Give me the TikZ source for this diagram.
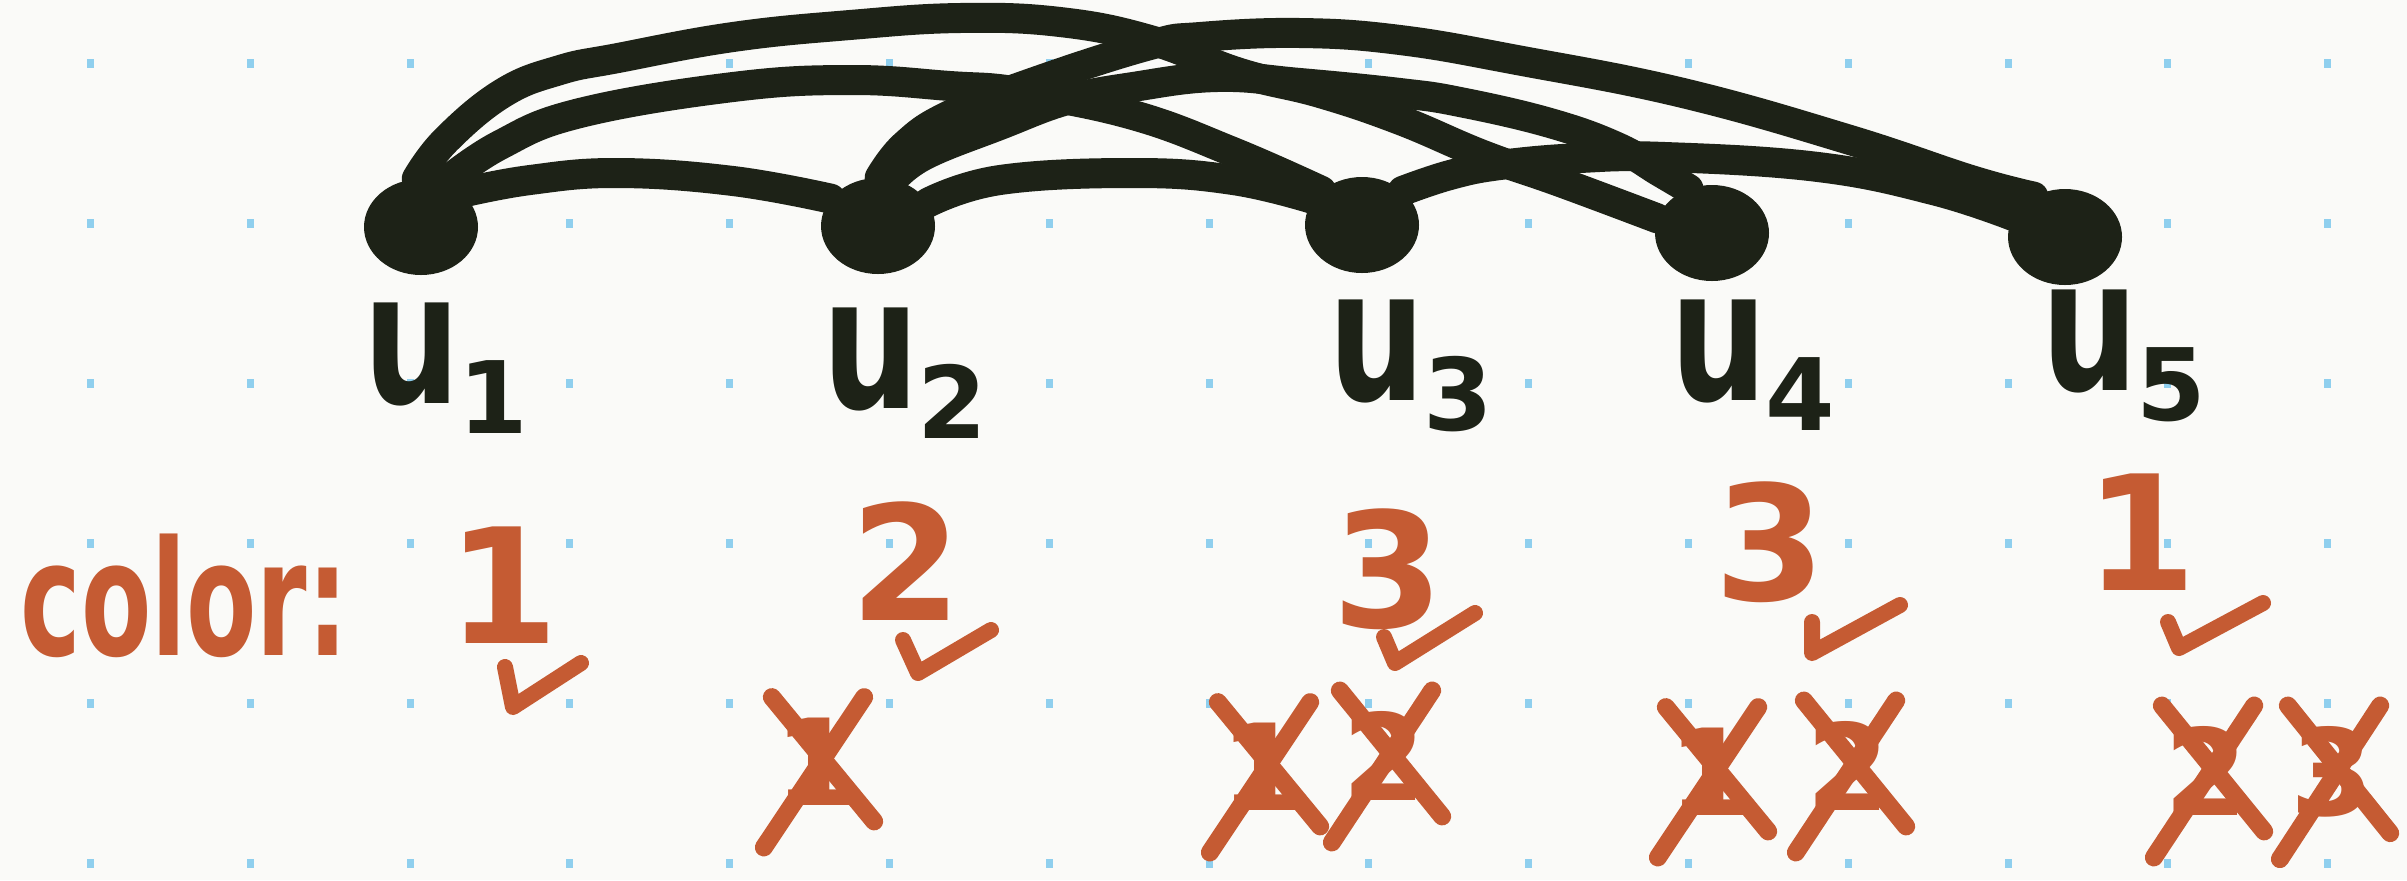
\documentclass[tikz,border=0pt]{standalone}
\usepackage{fontspec}
\setmainfont{DejaVu Sans}
\usetikzlibrary{shapes.geometric}
\definecolor{ink}{HTML}{1D2217}
\definecolor{rust}{HTML}{C55B33}
\definecolor{gridblue}{HTML}{8FCFEE}
\definecolor{paper}{HTML}{FAFAF8}
% vertex name: condensed u with a low index
\newcommand{\vname}[1]{\scalebox{0.74}[1]{u}\kern-1pt\raisebox{-15pt}{\fontsize{50}{50}\selectfont #1}}

\begin{document}
\begin{tikzpicture}[
        x=0.5pt, y=-0.5pt,
        vert/.style={ellipse, fill=ink, minimum width=57pt, minimum height=48pt, inner sep=0pt},
        link/.style={draw=ink, line width=15pt, line cap=round, line join=round},
        vlabel/.style={anchor=base west, text=ink, inner sep=0pt,
                       font=\fontsize{92}{92}\selectfont\bfseries},
        colour/.style={anchor=base, text=rust, inner sep=0pt,
                       font=\fontsize{80}{80}\selectfont\bfseries},
        tried/.style={anchor=base, text=rust, inner sep=0pt,
                      font=\fontsize{60}{60}\selectfont\bfseries},
        strike/.style={draw=rust, line width=9pt, line cap=round},
        okline/.style={draw=rust, line width=8pt, line cap=round, line join=round}
    ]
        \useasboundingbox (0,0) rectangle (2407,880);
        \fill[paper] (0,0) rectangle (2407,880);

        % dotted paper
        \foreach \i in {0,...,14}
            \foreach \j in {0,...,5}
                \fill[gridblue] ({90+159.8*\i-3},{63+160*\j-4}) rectangle ++(7,9);

        % vertices
        \node[vert] (u1) at (421,227) {};
        \node[vert] (u2) at (878,226) {};
        \node[vert] (u3) at (1362,225) {};
        \node[vert] (u4) at (1712,233) {};
        \node[vert] (u5) at (2065,237) {};

        % edges
        \draw[link] plot[smooth, tension=0.7] coordinates {(u1.40) (530,180) (618,173) (733,181) (u2.150)};
        \draw[link] plot[smooth, tension=0.7] coordinates {(u1.62) (500,145) (580,113) (733,87) (850,80)
            (950,86) (1020,92) (1133,115) (1233,152) (u3.140)};
        \draw[link] plot[smooth, tension=0.7] coordinates {(u1.95) (446,140) (503,93) (560,70) (618,58)
            (733,37) (850,25) (960,18) (1060,22) (1150,40) (1240,73) (1320,93) (1400,120) (1483,155)
            (1560,182) (u4.165)};
        \draw[link] plot[smooth, tension=0.7] coordinates {(u2.72) (925,155) (1000,125) (1067,100)
            (1133,87) (1217,77) (1300,83) (1400,93) (1460,102) (1550,123) (1617,147) (1660,172) (u4.118)};
        \draw[link] plot[smooth, tension=0.7] coordinates {(u2.88) (905,145) (950,115) (1040,80) (1150,45)
            (1200,37) (1300,33) (1400,40) (1517,60) (1683,93) (1850,140) (1971,180) (u5.128)};
        \draw[link] plot[smooth, tension=0.7] coordinates {(u2.25) (1000,180) (1133,173) (1233,180) (u3.152)};
        \draw[link] plot[smooth, tension=0.7] coordinates {(u3.40) (1450,175) (1500,165) (1580,158) (1665,157)
            (1818,167) (1933,190) (u5.158)};

        % names
        \node[vlabel] (l1) at (363,403) {\vname{1}};
        \node[vlabel] (l2) at (822,408) {\vname{2}};
        \node[vlabel] (l3) at (1328,400) {\vname{3}};
        \node[vlabel] (l4) at (1670,400) {\vname{4}};
        \node[vlabel] (l5) at (2041,390) {\vname{5}};

        % colours
        \node[colour, anchor=base west] (key) at (20,655) {\scalebox{0.64}[1]{color:}};
        \node[colour] (d1) at (503,643) {1};
        \node[colour] (d2) at (906,620) {2};
        \node[colour] (d3) at (1388,627) {3};
        \node[colour] (d4) at (1770,600) {3};
        \node[colour] (d5) at (2141,590) {1};

        \draw[okline] (505,667) -- (513,707) -- (581,663);
        \draw[okline] (903,640) -- (918,673) -- (991,630);
        \draw[okline] (1384,637) -- (1395,663) -- (1475,613);
        \draw[okline] (1812,622) -- (1812,653) -- (1900,605);
        \draw[okline] (2168,622) -- (2179,648) -- (2263,603);

        % colours ruled out
        \node[tried] (t21) at (816,805) {1};
        \node[tried] (t31) at (1262,810) {1};
        \node[tried] (t32) at (1384,800) {2};
        \node[tried] (t41) at (1710,815) {1};
        \node[tried] (t42) at (1848,810) {2};
        \node[tried] (t52) at (2206,815) {2};
        \node[tried] (t53) at (2332,815) {3};
        \foreach \t in {t21,t31,t32,t41,t42,t52,t53} {
            \draw[strike] ([shift={(-1pt,10pt)}]\t.north west) -- ([shift={(8pt,-8pt)}]\t.south east);
            \draw[strike] ([shift={(3pt,10pt)}]\t.north east) -- ([shift={(-5pt,-21pt)}]\t.south west);
        }
    \end{tikzpicture}
\end{document}
